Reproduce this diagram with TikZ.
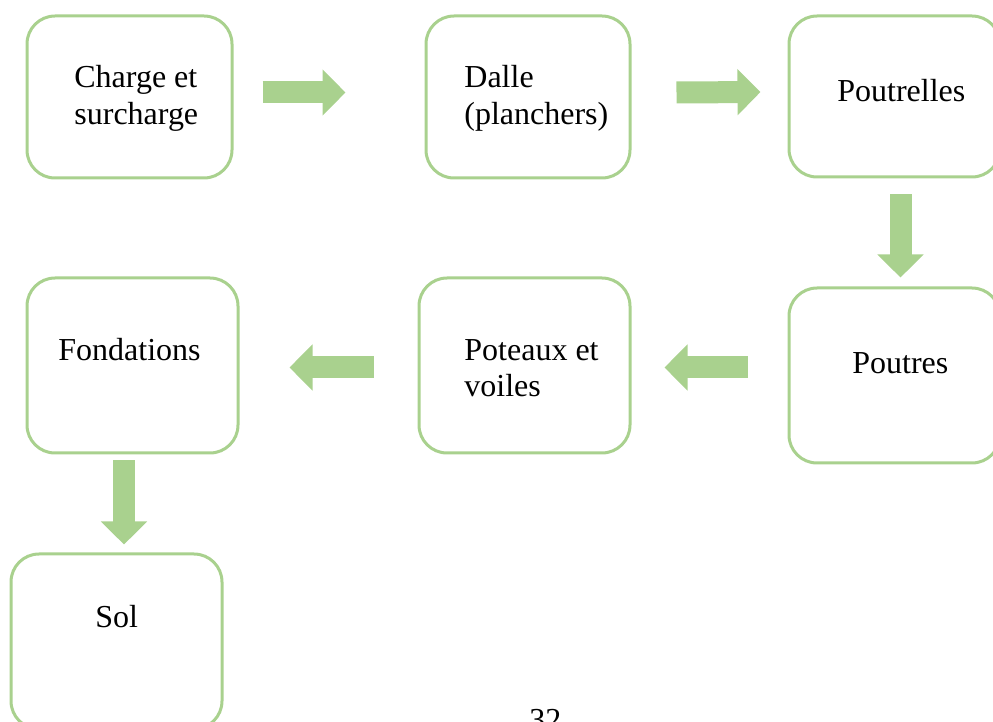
\documentclass[tikz,border=0pt]{standalone}
\usepackage{fontspec}
\setmainfont{Liberation Serif}
\usetikzlibrary{arrows.meta}
\definecolor{boxgreen}{HTML}{A9D18E}
\tikzset{
  box/.style={draw=boxgreen, line width=1.5pt, rounded corners=14pt, fill=none, inner sep=0pt},
  lbl/.style={anchor=base west, inner sep=0pt, font=\fontsize{16}{18}\selectfont, text=black},
  blockarrow/.style={draw=boxgreen, line width=11pt, -{Triangle[width=22.5pt,length=11.5pt]}},
}
\begin{document}
\begin{tikzpicture}[x=0.5pt,y=-0.5pt]
\useasboundingbox (0,0) rectangle (993,722);
% boxes
\node[box, minimum width=102.5pt, minimum height=81pt] (b1) at (129.5,97) {};
\node[box, minimum width=102pt, minimum height=81pt] (b2) at (528,97) {};
\node[box, minimum width=105.5pt, minimum height=80.5pt] (b3) at (894.5,96.5) {};
\node[box, minimum width=105.5pt, minimum height=87.5pt] (b4) at (894.5,375.5) {};
\node[box, minimum width=105.5pt, minimum height=87.5pt] (b5) at (524.5,365.5) {};
\node[box, minimum width=105.5pt, minimum height=87.5pt] (b6) at (132.5,365.5) {};
\node[box, minimum width=105.5pt, minimum height=87.5pt] (b7) at (116.5,641.5) {};
% labels
\node[lbl] (t1a) at (74,88) {Charge et};
\node[lbl] (t1b) at (74,125) {surcharge};
\node[lbl] (t2a) at (464,88) {Dalle};
\node[lbl] (t2b) at (464,125) {(planchers)};
\node[lbl] (t3) at (837,102) {Poutrelles};
\node[lbl] (t4) at (852,374) {Poutres};
\node[lbl] (t5a) at (464,361) {Poteaux et};
\node[lbl] (t5b) at (464,397) {voiles};
\node[lbl] (t6) at (58,361) {Fondations};
\node[lbl] (t7) at (95,627) {Sol};
\node[lbl] (t8) at (529,731) {32};
% arrows
\draw[blockarrow] ([xshift=14.5pt,yshift=2.25pt]b1.east) -- ([xshift=-39.5pt,yshift=2.25pt]b2.west);
\draw[blockarrow] ([xshift=22.5pt,yshift=2.25pt]b2.east) -- ([xshift=-13.5pt,yshift=2.25pt]b3.west);
\draw[blockarrow] ([xshift=3pt,yshift=-8pt]b3.south) -- ([xshift=3pt,yshift=4.5pt]b4.north);
\draw[blockarrow] ([xshift=-20pt,yshift=4pt]b4.west) -- ([xshift=16.5pt,yshift=-1pt]b5.east);
\draw[blockarrow] ([xshift=-22pt,yshift=-1pt]b5.west) -- ([xshift=25pt,yshift=-1pt]b6.east);
\draw[blockarrow] ([xshift=-4.25pt,yshift=-3pt]b6.south) -- ([xshift=3.75pt,yshift=4pt]b7.north);
\end{tikzpicture}
\end{document}
